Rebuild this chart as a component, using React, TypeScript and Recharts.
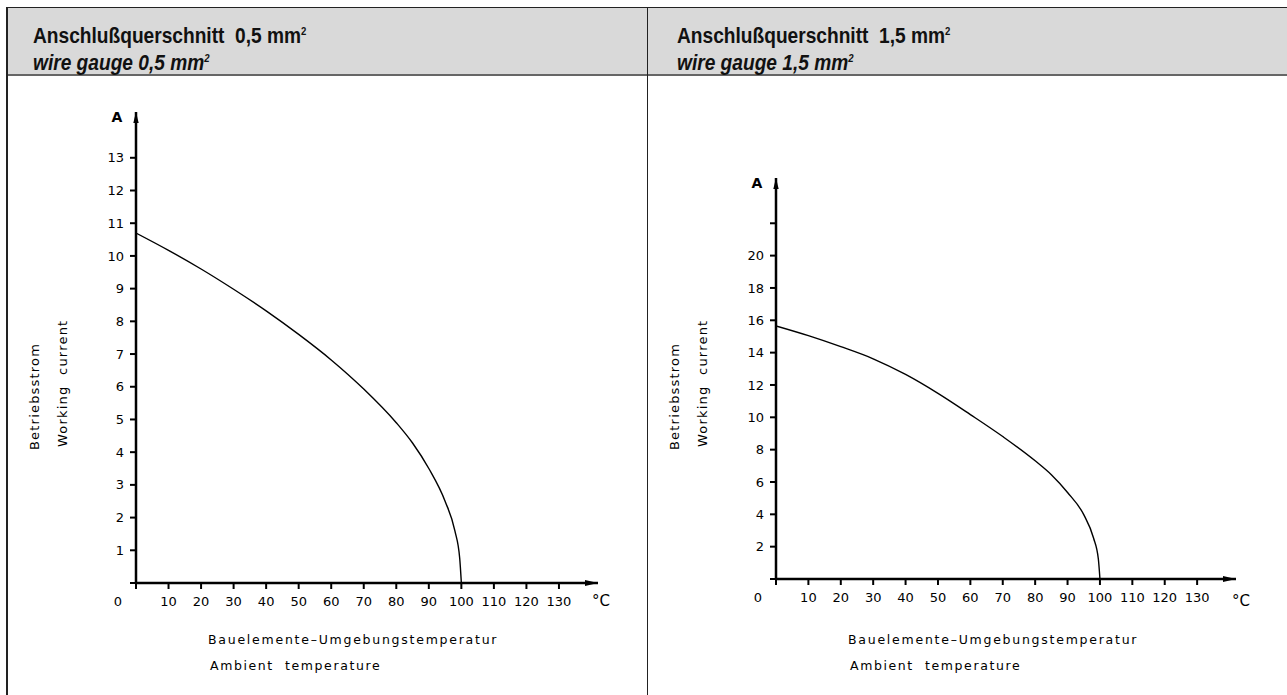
import { LineChart, Line, XAxis, YAxis } from 'recharts';

// Umgebungstemperatur (°C) und Betriebsstrom (A)
const temperature = [0, 10, 20, 30, 40, 50, 60, 70, 80, 85, 90, 95, 98, 99.5, 100];
const current05 = [10.7, 10.17, 9.6, 8.98, 8.32, 7.6, 6.82, 5.93, 4.9, 4.28, 3.5, 2.5, 1.6, 0.75, 0];
const current15 = [15.65, 15.05, 14.37, 13.62, 12.65, 11.48, 10.17, 8.81, 7.31, 6.45, 5.35, 3.98, 2.55, 1.25, 0];

const tempTicks = [0, 10, 20, 30, 40, 50, 60, 70, 80, 90, 100, 110, 120, 130];
const ticks05 = [0, 1, 2, 3, 4, 5, 6, 7, 8, 9, 10, 11, 12, 13];
const ticks15 = [0, 2, 4, 6, 8, 10, 12, 14, 16, 18, 20, 22];
const labels15 = [2, 4, 6, 8, 10, 12, 14, 16, 18, 20];

const CHART_FONT = "'DejaVu Sans', sans-serif";
const HEAD_FONT = "'Liberation Sans', Arial, sans-serif";

const XTick = (props: any) => {
  const { x, y, payload } = props;
  return (
    <text
      x={payload.value === 0 ? x - 18 : x}
      y={y}
      dy="0.71em"
      textAnchor="middle"
      fontSize={13}
      fontFamily={CHART_FONT}
      fill="#000"
    >
      {payload.value}
    </text>
  );
};

const makeYTick = (shown: number[]) => (props: any) => {
  const { x, y, payload } = props;
  if (!shown.includes(payload.value)) return <g />;
  return (
    <text x={x} y={y} dy="0.355em" textAnchor="end" fontSize={13} fontFamily={CHART_FONT} fill="#000">
      {payload.value}
    </text>
  );
};

interface PanelProps {
  id: string;
  values: number[];
  yMax: number;
  yTicks: number[];
  yLabels: number[];
  top: number;
  bottom: number;
  right: number;
  left: number;
}

function Panel({ id, values, yMax, yTicks, yLabels, top, bottom, right, left }: PanelProps) {
  const data = temperature.map((t, i) => ({ temp: t, current: values[i] }));
  const YTick = makeYTick(yLabels);
  return (
    <LineChart
      width={640}
      height={610}
      data={data}
      margin={{ top, right, bottom, left: 76 }}
      style={{ position: 'absolute', left, top: 80 }}
    >
      <defs>
        <marker
          id={id + 'x'}
          markerUnits="userSpaceOnUse"
          markerWidth={14}
          markerHeight={8}
          refX={13}
          refY={4}
          orient="auto"
        >
          <path d="M0,1 L13,4 L0,7 z" fill="#000" />
        </marker>
        <marker
          id={id + 'y'}
          markerUnits="userSpaceOnUse"
          markerWidth={12}
          markerHeight={8}
          refX={11}
          refY={4}
          orient="auto-start-reverse"
        >
          <path d="M0,1.3 L11,4 L0,6.7 z" fill="#000" />
        </marker>
      </defs>
      <XAxis
        dataKey="temp"
        type="number"
        domain={[0, 142]}
        ticks={tempTicks}
        interval={0}
        allowDataOverflow
        height={30}
        tickSize={6}
        tickMargin={8}
        tickLine={{ stroke: '#000', strokeWidth: 2 }}
        axisLine={{ stroke: '#000', strokeWidth: 2.5, markerEnd: `url(#${id}x)` }}
        tick={<XTick />}
      />
      <YAxis
        type="number"
        width={60}
        domain={[0, yMax]}
        ticks={yTicks}
        interval={0}
        allowDataOverflow
        tickSize={6}
        tickMargin={6}
        tickLine={{ stroke: '#000', strokeWidth: 2 }}
        axisLine={{ stroke: '#000', strokeWidth: 2.5, markerStart: `url(#${id}y)` }}
        tick={<YTick />}
      />
      <Line
        type="monotone"
        dataKey="current"
        stroke="#000"
        strokeWidth={1.4}
        dot={false}
        isAnimationActive={false}
      />
      <g fontFamily={CHART_FONT} fill="#000">
        <text x={117} y={top + 5} dy="0.36em" textAnchor="middle" fontSize={14} fontWeight="bold">
          A
        </text>
        <text x={601} y={521} dy="0.36em" textAnchor="middle" fontSize={15}>
          °C
        </text>
        <text x={39} y={370} transform="rotate(-90 39 370)" fontSize={13} letterSpacing={1.2}>
          Betriebsstrom
        </text>
        <text x={67} y={367} transform="rotate(-90 67 367)" fontSize={13} letterSpacing={1.2} style={{ whiteSpace: 'pre' }}>
          Working  current
        </text>
        <text x={208} y={559} dy="0.36em" fontSize={12.5} letterSpacing={1.75}>
          Bauelemente–Umgebungstemperatur
        </text>
        <text x={210} y={585} dy="0.36em" fontSize={12.5} letterSpacing={1.6} style={{ whiteSpace: 'pre' }}>
          Ambient  temperature
        </text>
      </g>
    </LineChart>
  );
}

function Header({ left, size }: { left: number; size: string }) {
  return (
    <div
      style={{
        position: 'absolute',
        left,
        top: 20,
        fontFamily: HEAD_FONT,
        fontWeight: 'bold',
        fontSize: 22,
        lineHeight: '23px',
        color: '#111',
        whiteSpace: 'pre',
        transform: 'scaleX(0.87)',
        transformOrigin: '0 0',
      }}
    >
      <div>
        {`Anschlußquerschnitt  ${size} mm`}
        <sup style={{ fontSize: 11 }}>2</sup>
      </div>
      <div style={{ fontStyle: 'italic' }}>
        {`wire gauge ${size} mm`}
        <sup style={{ fontSize: 11 }}>2</sup>
      </div>
    </div>
  );
}

export default function App() {
  return (
    <div style={{ position: 'absolute', left: 0, top: 0, width: 1287, height: 695, background: '#fff', overflow: 'hidden' }}>
      {/* Rahmen und Kopfzeile */}
      <div style={{ position: 'absolute', left: 6, top: 7, width: 1300, height: 67, background: '#d9d9d9', borderTop: '1px solid #222' }} />
      <div style={{ position: 'absolute', left: 6, top: 74, width: 1300, height: 2, background: '#666' }} />
      <div style={{ position: 'absolute', left: 6, top: 7, width: 1.5, height: 700, background: '#222' }} />
      <div style={{ position: 'absolute', left: 646.5, top: 7, width: 1.5, height: 700, background: '#222' }} />
      <Header left={33} size="0,5" />
      <Header left={677} size="1,5" />
      <Panel
        id="p05"
        values={current05}
        yMax={14.4}
        yTicks={ticks05}
        yLabels={ticks05.filter((t) => t > 0)}
        top={32}
        bottom={77}
        right={42}
        left={0}
      />
      <Panel
        id="p15"
        values={current15}
        yMax={24.8}
        yTicks={ticks15}
        yLabels={labels15}
        top={98}
        bottom={81}
        right={44}
        left={640}
      />
    </div>
  );
}
